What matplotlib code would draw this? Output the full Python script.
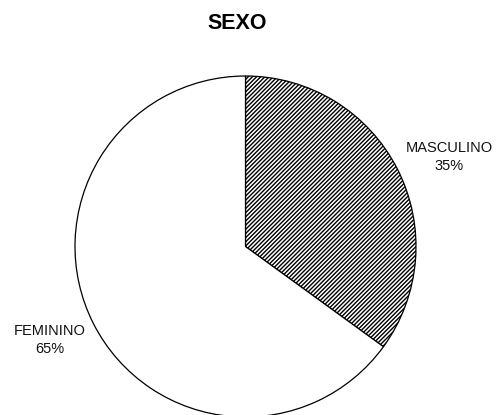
import matplotlib
matplotlib.use("Agg")
import matplotlib.pyplot as plt

plt.rcParams['font.family'] = ['Liberation Sans', 'DejaVu Sans']
plt.rcParams['hatch.linewidth'] = 1.0

title = "SEXO"
categories = ["MASCULINO", "FEMININO"]
values = [35, 65]

fig = plt.figure(figsize=(4.97, 4.15), dpi=100)
ax = fig.add_axes([0, 0, 1, 1])

wedges, _ = ax.pie(values, center=(245.5, 168.5), radius=170.5,
                   startangle=90, counterclock=False,
                   colors=["white", "white"],
                   wedgeprops=dict(edgecolor="black", linewidth=0.9))
wedges[0].set_hatch("////////")

# pie() fixes its own limits, so set them afterwards
ax.set_xlim(0, 497)
ax.set_ylim(0, 415)
ax.set_aspect("equal")
ax.axis("off")

# etiquetas
label_pos = [(449, 258), (49.5, 75)]
for (x, y), cat, v in zip(label_pos, categories, values):
    ax.text(x, y, f"{cat}\n{v}%", ha="center", va="center",
            fontsize=10.5, linespacing=1.45, color="#111111")

ax.text(237.5, 391.5, title, ha="center", va="center",
        fontsize=15.5, fontweight="bold")

fig.savefig("out.png", dpi=100)
